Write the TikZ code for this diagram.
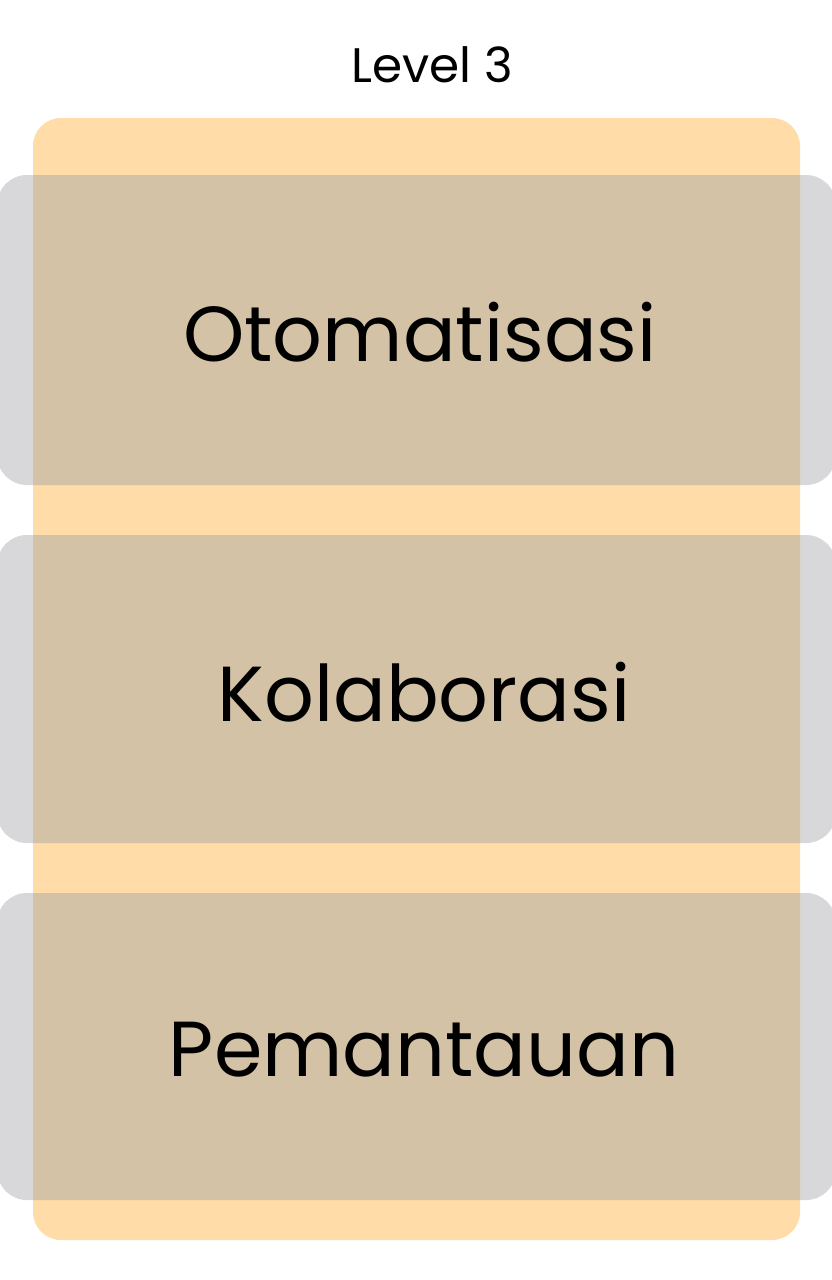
\documentclass[tikz,border=0pt]{standalone}
\usepackage{fontspec}
\setmainfont{Poppins}
\definecolor{orangebg}{HTML}{FFDCA8}
\definecolor{greybar}{HTML}{D8D8DA}
\definecolor{tanbar}{HTML}{D3C2A5}
\begin{document}
\begin{tikzpicture}[x=1pt,y=-1pt,
  barshape/.style={fill=greybar, rounded corners=30pt},
  label/.style={font=\fontsize{78}{86}\selectfont, text=black, inner sep=0pt, anchor=center},
  toplabel/.style={font=\fontsize{48.5}{54}\selectfont, text=black, inner sep=0pt, anchor=center}]
\useasboundingbox[fill=white] (0,0) rectangle (832,1280);
% grey bars
\foreach \t/\b in {175/485, 535/843, 893/1200}{
  \fill[barshape] (-3,\t) rectangle (836,\b);
}
% orange panel
\fill[orangebg, rounded corners=28pt] (33,118) rectangle (800,1240);
% overlap
\begin{scope}
\clip[rounded corners=28pt] (33,118) rectangle (800,1240);
\foreach \t/\b in {175/485, 535/843, 893/1200}{
  \fill[tanbar, rounded corners=30pt] (-3,\t) rectangle (836,\b);
}
\end{scope}
\node[toplabel] (title) at (432,65) {Level 3};
\node[label] (l1) at (420,332) {Otomatisasi};
\node[label] (l2) at (424,692) {Kolaborasi};
\node[label] (l3) at (424,1050) {Pemantauan};
\end{tikzpicture}
\end{document}
